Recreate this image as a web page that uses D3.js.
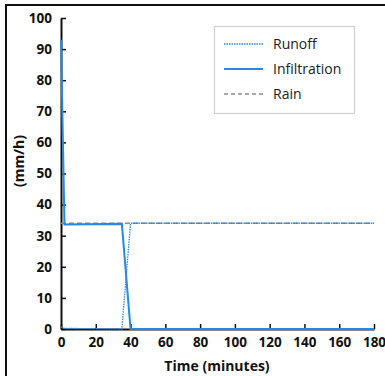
<!DOCTYPE html>
<html>
<head>
<meta charset="utf-8">
<script src="https://cdn.jsdelivr.net/npm/d3@7"></script>
<style>
  body { margin: 0; background: #fff; }
  .tick text { font-family: "Open Sans", sans-serif; font-weight: bold; font-size: 13.5px; fill: #111; }
  .axisText { font-family: "Open Sans", sans-serif; font-weight: bold; font-size: 14px; fill: #111; }
  .legendText { font-family: "Open Sans", sans-serif; font-size: 14px; fill: #222; }
</style>
</head>
<body>
<div class="chart"></div>
<script>
var svgWidth = 385;
var svgHeight = 376;

var margin = { top: 18, right: 11, bottom: 47, left: 61 };
var width = svgWidth - margin.left - margin.right;
var height = svgHeight - margin.top - margin.bottom;

// series (time in minutes, rate in mm/h)
var rainTime = [0, 180];
var rainRate = [34, 34];
var infilTime = [0, 2, 35, 40, 180];
var infilRate = [93, 33.6, 33.8, 0, 0];
var runoffTime = [0, 2, 35, 40, 180];
var runoffRate = [0.6, 0.2, 0, 34, 34];

var xTicks = [0, 20, 40, 60, 80, 100, 120, 140, 160, 180];
var yTicks = [0, 10, 20, 30, 40, 50, 60, 70, 80, 90, 100];
var seriesNames = ["Runoff", "Infiltration", "Rain"];

var blue = "#2489e6";

var svg = d3.select(".chart")
  .append("svg")
  .attr("width", svgWidth)
  .attr("height", svgHeight);

// outer frame (only top and left edges are visible)
svg.append("path")
  .attr("d", "M6,376 V5 H385")
  .attr("fill", "none")
  .attr("stroke", "#111")
  .attr("stroke-width", 2);

var chart = svg.append("g")
  .attr("transform", "translate(" + margin.left + "," + margin.top + ")");

var xLinearScale = d3.scaleLinear().domain([0, 180]).range([0, width]);
var yLinearScale = d3.scaleLinear().domain([0, 100]).range([height, 0]);

var bottomAxis = d3.axisBottom(xLinearScale).tickValues(xTicks).tickSizeInner(-5).tickSizeOuter(0).tickPadding(8);
var leftAxis = d3.axisLeft(yLinearScale).tickValues(yTicks).tickSizeInner(-5).tickSizeOuter(0).tickPadding(9);

function zip(xs, ys) {
  return xs.map(function(x, i) { return [x, ys[i]]; });
}

var line = d3.line()
  .x(function(d) { return xLinearScale(d[0]); })
  .y(function(d) { return yLinearScale(d[1]); });

var xg = chart.append("g")
  .attr("transform", "translate(0," + height + ")")
  .call(bottomAxis);
var yg = chart.append("g")
  .call(leftAxis);
[xg, yg].forEach(function(g) {
  g.selectAll("path, line").attr("stroke", "#111").attr("stroke-width", 1.5);
  g.select(".domain").attr("stroke-width", 2);
});

chart.append("path")
  .datum(zip(rainTime, rainRate))
  .attr("d", line)
  .attr("fill", "none")
  .attr("stroke", "#8c8c8c")
  .attr("stroke-width", 1.6)
  .attr("stroke-dasharray", "5,3");

chart.append("path")
  .datum(zip(runoffTime, runoffRate))
  .attr("d", line)
  .attr("fill", "none")
  .attr("stroke", blue)
  .attr("stroke-width", 1.3)
  .attr("stroke-dasharray", "1.5,1");

chart.append("path")
  .datum(zip(infilTime, infilRate))
  .attr("d", line)
  .attr("fill", "none")
  .attr("stroke", blue)
  .attr("stroke-width", 2);

// axis titles
svg.append("text")
  .attr("class", "axisText")
  .attr("text-anchor", "middle")
  .attr("x", 217)
  .attr("y", 371)
  .text("Time (minutes)");

svg.append("text")
  .attr("class", "axisText")
  .attr("text-anchor", "middle")
  .attr("transform", "translate(24,161) rotate(-90)")
  .text("(mm/h)");

// legend
var legend = svg.append("g").attr("transform", "translate(214,26)");
legend.append("rect")
  .attr("x", 0.5).attr("y", 0.5)
  .attr("width", 140).attr("height", 87)
  .attr("fill", "#fff")
  .attr("stroke", "#d0d0d0")
  .attr("stroke-width", 1.2);

var legendStyles = [
  { stroke: blue, width: 1.3, dash: "1.5,1" },
  { stroke: blue, width: 2, dash: null },
  { stroke: "#8c8c8c", width: 1.6, dash: "4,3" }
];

var rows = legend.selectAll("g.row")
  .data(seriesNames)
  .enter()
  .append("g")
  .attr("class", "row")
  .attr("transform", function(d, i) { return "translate(0," + (18 + i * 25) + ")"; });

rows.append("line")
  .attr("x1", 10).attr("x2", 49)
  .attr("y1", 0).attr("y2", 0)
  .attr("stroke", function(d, i) { return legendStyles[i].stroke; })
  .attr("stroke-width", function(d, i) { return legendStyles[i].width; })
  .attr("stroke-dasharray", function(d, i) { return legendStyles[i].dash; });

rows.append("text")
  .attr("class", "legendText")
  .attr("x", 59)
  .attr("y", 5)
  .text(function(d) { return d; });
</script>
</body>
</html>
